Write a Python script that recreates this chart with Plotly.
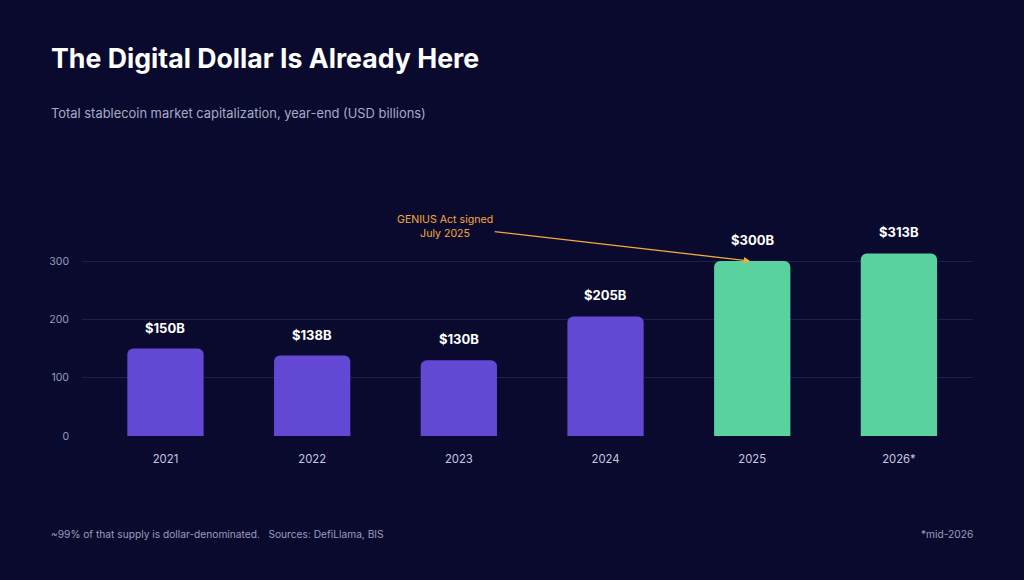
import plotly.graph_objects as go

years = ["2021", "2022", "2023", "2024", "2025", "2026*"]
values = [150, 138, 130, 205, 300, 313]
labels = ["$150B", "$138B", "$130B", "$205B", "$300B", "$313B"]
kinds = ["actual", "actual", "actual", "actual", "post", "post"]
tick_vals = [0, 100, 200, 300]

BG = "#0A0A2E"
PURPLE = "#664BDA"
GREEN = "#5DDBA4"
FONT = "Inter, Lato, sans-serif"

colors = [PURPLE if k == "actual" else GREEN for k in kinds]
idx = list(range(len(years)))

fig = go.Figure()
fig.add_trace(go.Bar(
    x=idx, y=values,
    marker=dict(color=colors, line=dict(width=0), cornerradius=6),
    opacity=0.96,
    width=0.52,
    hoverinfo="skip",
))

for i, v, t in zip(idx, values, labels):
    fig.add_annotation(x=i, y=v, text=f"<b>{t}</b>", showarrow=False,
                       yshift=21, font=dict(family=FONT, size=13, color="#FFFFFF"))

fig.add_annotation(
    x=years.index("2025"), y=values[years.index("2025")], xshift=-2,
    ax=-305, ay=-35,
    text="GENIUS Act signed<br>July 2025",
    showarrow=True, arrowhead=2, arrowsize=1, arrowwidth=1.3,
    arrowcolor="#F5A93A", standoff=0,
    font=dict(family=FONT, size=10.6, color="#F5A93A"),
    align="center",
)

fig.update_layout(
    width=1024, height=580,
    paper_bgcolor=BG, plot_bgcolor=BG,
    margin=dict(l=82, r=51, t=226, b=144),
    showlegend=False,
    xaxis=dict(
        range=[-0.569, 5.505],
        tickvals=idx, ticktext=years,
        showgrid=False, zeroline=False, showline=False,
        tickfont=dict(family=FONT, size=11.3, color="#C8C8E0"),
        ticks="", ticklabelstandoff=15,
    ),
    yaxis=dict(
        range=[0, 360], tickvals=tick_vals,
        gridcolor="#1E1E4C", gridwidth=1,
        zeroline=False, showline=False,
        tickfont=dict(family=FONT, size=10.5, color="#9C9CBC"),
        ticks="", ticklabelstandoff=12,
    ),
)

def paper_text(txt, px, py, size, color, anchor="left", bold=False):
    fig.add_annotation(
        xref="paper", yref="paper",
        x=(px - 82) / (1024 - 82 - 51), y=(580 - 144 - py) / (580 - 226 - 144),
        xanchor=anchor, yanchor="middle", showarrow=False,
        text=f"<b>{txt}</b>" if bold else txt,
        font=dict(family=FONT, size=size, color=color),
    )

paper_text("The Digital Dollar Is Already Here", 49, 58, 26.7, "#FFFFFF", bold=True)
paper_text("Total stablecoin market capitalization, year-end (USD billions)", 49, 114, 12.9, "#A9A9C9")
paper_text("~99% of that supply is dollar-denominated.   Sources: DefiLlama, BIS", 49, 534, 10.2, "#9C9CBC")
paper_text("*mid-2026", 975, 534, 10.2, "#9C9CBC", anchor="right")

fig.write_html("out.html")
